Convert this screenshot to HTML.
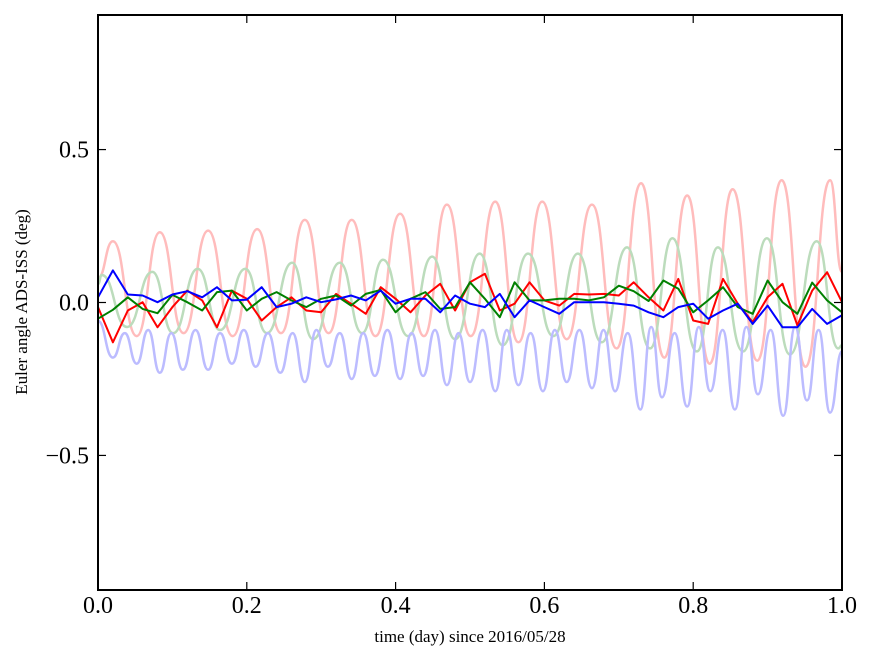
<!DOCTYPE html>
<html><head><meta charset="utf-8"><style>
body{margin:0;background:#fff;}
svg{display:block;font-family:"Liberation Serif",serif;}
</style></head><body>
<svg id="chart" width="875" height="662" viewBox="0 0 875 662">
<rect x="0" y="0" width="875" height="662" fill="#fff"/>
<g id="plot"></g>
<rect x="98" y="15" width="744" height="575" fill="none" stroke="#000" stroke-width="2"/>
<g id="axes"></g>
<text x="470" y="642" font-size="17" text-anchor="middle">time (day) since 2016/05/28</text>
<text transform="translate(27,302) rotate(-90)" font-size="17" text-anchor="middle">Euler angle ADS-ISS (deg)</text>
</svg>
<script>
// light (filtered) series as extrema points
const redLightT = [0,0.020,0.052,0.083,0.115,0.148,0.181,0.214,0.246,0.278,0.310,0.341,0.373,0.406,0.438,0.469,0.501,0.534,0.565,0.597,0.630,0.664,0.697,0.730,0.761,0.792,0.822,0.853,0.886,0.919,0.951,0.984,1.0];
const redLightV = [0.08,0.20,-0.11,0.23,-0.10,0.235,-0.11,0.24,-0.10,0.27,-0.10,0.27,-0.11,0.29,-0.11,0.32,-0.11,0.33,-0.13,0.33,-0.12,0.32,-0.15,0.39,-0.18,0.35,-0.20,0.37,-0.19,0.40,-0.21,0.40,0.10];
const greenLightT = [0,0.005,0.039,0.073,0.101,0.134,0.164,0.198,0.227,0.261,0.289,0.325,0.355,0.383,0.417,0.449,0.480,0.513,0.544,0.578,0.612,0.645,0.677,0.711,0.742,0.772,0.805,0.833,0.867,0.899,0.930,0.966,0.995,1.0];
const greenLightV = [0.06,0.09,-0.08,0.10,-0.10,0.11,-0.09,0.11,-0.10,0.13,-0.12,0.13,-0.10,0.14,-0.11,0.15,-0.12,0.16,-0.14,0.16,-0.11,0.16,-0.13,0.18,-0.15,0.21,-0.16,0.18,-0.16,0.21,-0.17,0.20,-0.15,-0.14];
const blueLightDipT = [0.020,0.052,0.083,0.114,0.148,0.180,0.212,0.245,0.278,0.309,0.341,0.372,0.406,0.437,0.469,0.500,0.534,0.565,0.598,0.630,0.664,0.695,0.729,0.758,0.792,0.823,0.856,0.887,0.921,0.953,0.984];
const blueLightDipV = [-0.18,-0.20,-0.23,-0.22,-0.22,-0.20,-0.21,-0.23,-0.26,-0.21,-0.25,-0.24,-0.25,-0.24,-0.27,-0.26,-0.29,-0.27,-0.29,-0.26,-0.28,-0.29,-0.35,-0.31,-0.34,-0.29,-0.35,-0.30,-0.37,-0.32,-0.36];
const blueLightTopV = [-0.10,-0.09,-0.10,-0.09,-0.10,-0.09,-0.10,-0.10,-0.09,-0.10,-0.10,-0.09,-0.10,-0.09,-0.10,-0.09,-0.09,-0.10,-0.09,-0.09,-0.09,-0.10,-0.08,-0.10,-0.08,-0.09,-0.08,-0.09,-0.08,-0.09];
const blueLightStartV = -0.06, blueLightEndV = -0.16;
// dark (raw) series sampled every 0.02 day
const darkT0 = 0, darkStep = 0.02;
const redDark = [-0.015,-0.130,-0.026,0.001,-0.081,-0.015,0.039,0.007,-0.081,0.039,0.012,-0.059,-0.015,0.017,-0.026,-0.032,0.028,-0.004,-0.037,0.050,0.012,-0.032,0.023,0.061,-0.026,0.066,0.094,-0.026,-0.004,0.066,0.007,-0.010,0.028,0.026,0.028,0.023,0.066,0.017,-0.026,0.077,-0.059,-0.070,0.077,-0.004,-0.064,0.017,0.061,-0.075,0.039,0.099,0.001];
const greenDark = [-0.053,-0.024,0.017,-0.021,-0.035,0.025,0.001,-0.026,0.034,0.039,-0.026,0.012,0.034,0.007,-0.015,0.012,0.023,-0.010,0.028,0.041,-0.032,0.012,0.034,-0.021,-0.015,0.066,0.012,-0.048,0.066,0.007,0.007,0.012,0.012,0.007,0.017,0.055,0.037,0.005,0.072,0.045,-0.032,0.007,0.050,-0.015,-0.037,0.072,0.001,-0.037,0.065,0.007,-0.032];
const blueDark = [0.017,0.105,0.026,0.023,0.001,0.026,0.037,0.017,0.050,0.007,0.009,0.050,-0.015,-0.004,0.017,0.001,0.010,0.023,0.007,0.039,-0.004,0.012,0.012,-0.032,0.023,-0.004,-0.015,0.028,-0.048,0.007,-0.015,-0.037,0.001,0.001,0.001,-0.004,-0.010,-0.032,-0.048,-0.015,-0.004,-0.053,-0.026,-0.004,-0.070,-0.010,-0.081,-0.081,-0.021,-0.070,-0.042];
const xTicks = [0,0.2,0.4,0.6,0.8,1.0];
const xTickLabels = ["0.0","0.2","0.4","0.6","0.8","1.0"];
const yTicks = [0.5,0,-0.5];
const yTickLabels = ["0.5","0.0","\u22120.5"];

const X0=98,X1=842,Y0=15,Y1=590,YMIN=-0.94,YMAX=0.94;
function sx(t){return X0+(t-0)/(1-0)*(X1-X0);}
function sy(v){return Y1-(v-YMIN)/(YMAX-YMIN)*(Y1-Y0);}
const NS="http://www.w3.org/2000/svg";
const plot=document.getElementById('plot');
const axes=document.getElementById('axes');

function smoothPath(ts,vs){
  let d="M"+sx(ts[0]).toFixed(1)+","+sy(vs[0]).toFixed(1);
  for(let i=1;i<ts.length;i++){
    const xa=sx(ts[i-1]),ya=sy(vs[i-1]),xb=sx(ts[i]),yb=sy(vs[i]);
    const dx=(xb-xa)/2;
    d+=" C"+(xa+dx).toFixed(1)+","+ya.toFixed(1)+" "+(xb-dx).toFixed(1)+","+yb.toFixed(1)+" "+xb.toFixed(1)+","+yb.toFixed(1);
  }
  return d;
}
function linePath(vs){
  let d="";
  vs.forEach((v,i)=>{d+=(i?" L":"M")+sx(darkT0+i*darkStep).toFixed(1)+","+sy(v).toFixed(1);});
  return d;
}
function addPath(d,color,w,name){
  const p=document.createElementNS(NS,'path');
  p.setAttribute('d',d);p.setAttribute('fill','none');p.setAttribute('stroke',color);
  p.setAttribute('stroke-width',w);p.setAttribute('stroke-linejoin','round');
  
  
  plot.appendChild(p);
}
// build light blue extrema list
const blT=[0],blV=[blueLightStartV];
for(let i=0;i<blueLightDipT.length;i++){
  blT.push(blueLightDipT[i]);blV.push(blueLightDipV[i]);
  if(i<blueLightTopV.length){blT.push((blueLightDipT[i]+blueLightDipT[i+1])/2);blV.push(blueLightTopV[i]);}
}
blT.push(1);blV.push(blueLightEndV);

addPath(smoothPath(redLightT,redLightV),'#ffbcbc',2.5,'red-filtered-line');
addPath(smoothPath(greenLightT,greenLightV),'#bcdcbc',2.5,'green-filtered-line');
addPath(smoothPath(blT,blV),'#bcbcff',2.5,'blue-filtered-line');
addPath(linePath(redDark),'#ff0000',2,'red-raw-line');
addPath(linePath(greenDark),'#008000',2,'green-raw-line');
addPath(linePath(blueDark),'#0000ff',2,'blue-raw-line');

xTicks.forEach((t,i)=>{
  const x=sx(t);
  [[Y1,Y1-8],[Y0,Y0+8]].forEach(([a,b])=>{
    const l=document.createElementNS(NS,'line');
    l.setAttribute('x1',x);l.setAttribute('x2',x);l.setAttribute('y1',a);l.setAttribute('y2',b);
    l.setAttribute('stroke','#000');l.setAttribute('stroke-width','1.2');
    
    
    axes.appendChild(l);
  });
  const tx=document.createElementNS(NS,'text');
  tx.setAttribute('x',x);tx.setAttribute('y',613);tx.setAttribute('font-size','24');tx.setAttribute('text-anchor','middle');
  tx.textContent=xTickLabels[i];
  
  
  axes.appendChild(tx);
});
yTicks.forEach((v,i)=>{
  const y=sy(v);
  [[X0,X0+8],[X1,X1-8]].forEach(([a,b])=>{
    const l=document.createElementNS(NS,'line');
    l.setAttribute('x1',a);l.setAttribute('x2',b);l.setAttribute('y1',y);l.setAttribute('y2',y);
    l.setAttribute('stroke','#000');l.setAttribute('stroke-width','1.2');
    
    
    axes.appendChild(l);
  });
  const tx=document.createElementNS(NS,'text');
  tx.setAttribute('x',89);tx.setAttribute('y',y+8);tx.setAttribute('font-size','24');tx.setAttribute('text-anchor','end');
  tx.textContent=yTickLabels[i];
  
  
  axes.appendChild(tx);
});
</script>
</body></html>
